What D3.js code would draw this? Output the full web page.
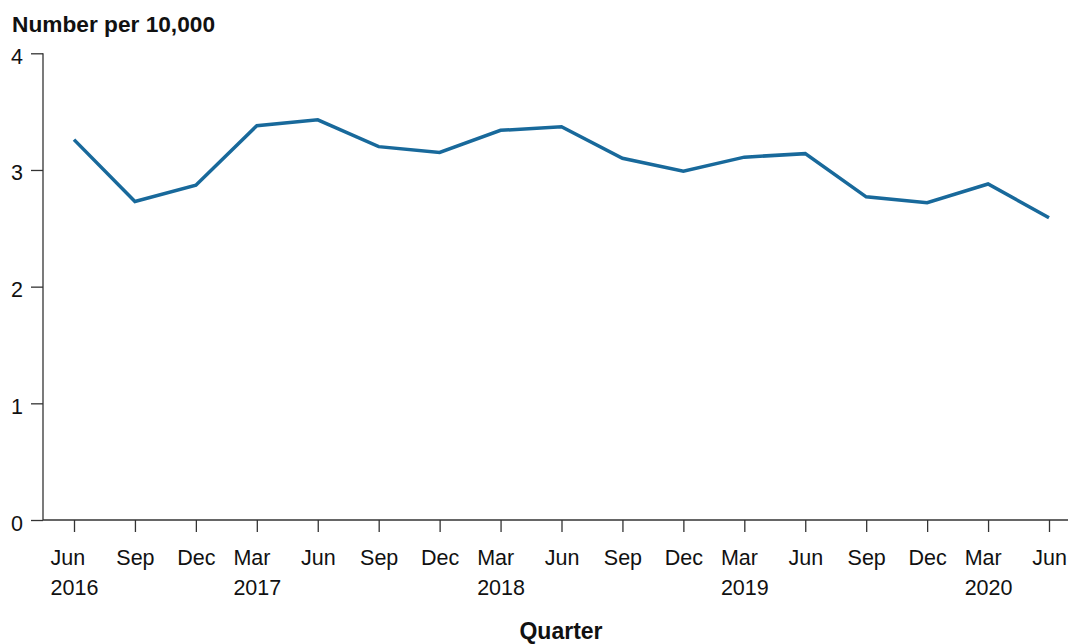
<!DOCTYPE html>
<html>
<head>
<meta charset="utf-8">
<script src="https://cdn.jsdelivr.net/npm/d3@7"></script>
<style>
  body { margin: 0; background: #fff; }
  svg { display: block; font-family: "Liberation Sans", Arial, sans-serif; }
</style>
</head>
<body>
<svg id="chart" width="1068" height="644"></svg>
<script>
var quarters = ["Jun", "Sep", "Dec", "Mar", "Jun", "Sep", "Dec", "Mar", "Jun",
                "Sep", "Dec", "Mar", "Jun", "Sep", "Dec", "Mar", "Jun"]
var years = ["2016", "", "", "2017", "", "", "", "2018", "", "", "", "2019", "", "", "", "2020", ""]
var rates = [3.26, 2.73, 2.87, 3.38, 3.43, 3.20, 3.15, 3.34, 3.37,
             3.10, 2.99, 3.11, 3.14, 2.77, 2.72, 2.88, 2.59]
var yTicks = [0, 1, 2, 3, 4]

var svg = d3.select("#chart")
var idx = d3.range(quarters.length)

var x = d3.scalePoint().domain(idx).range([74, 1049])
var y = d3.scaleLinear().domain([0, 4]).range([520, 53.3])

// y axis
var yAxis = svg.append("g").attr("transform", "translate(43,0)")
  .call(d3.axisLeft(y).tickValues(yTicks).tickSize(12).tickPadding(8).tickFormat(d3.format("d")))
yAxis.select(".domain").attr("d", "M0," + y(4) + "V" + y(0)).attr("stroke", "#333").attr("stroke-width", 1.3)
yAxis.selectAll(".tick line").attr("stroke", "#333").attr("stroke-width", 1.3)
yAxis.selectAll(".tick text").attr("font-size", 21.5).attr("fill", "#111").attr("dy", 10)

// x axis
var xAxis = svg.append("g").attr("transform", "translate(0," + y(0) + ")")
  .call(d3.axisBottom(x).tickSize(12).tickFormat(""))
xAxis.select(".domain").attr("d", "M43,0H1068").attr("stroke", "#333").attr("stroke-width", 1.3)
xAxis.selectAll(".tick line").attr("stroke", "#333").attr("stroke-width", 1.3)
xAxis.selectAll(".tick text").remove()

// two-line labels: block centred on the tick, lines left aligned
xAxis.selectAll(".tick").each(function(d) {
  var tick = d3.select(this)
  var q = tick.append("text").attr("font-size", 21.5).attr("fill", "#111")
    .attr("y", 45).text(quarters[d])
  if (years[d]) {
    var yr = tick.append("text").attr("font-size", 21.5).attr("fill", "#111")
      .attr("y", 75).text(years[d])
    var w = Math.max(q.node().getComputedTextLength(), yr.node().getComputedTextLength())
    q.attr("text-anchor", "start").attr("x", -w / 2)
    yr.attr("text-anchor", "start").attr("x", -w / 2)
  } else {
    q.attr("text-anchor", "middle")
  }
})

// line
var line = d3.line()
  .x(function(d, i) { return x(i) })
  .y(function(d) { return y(d) })

svg.append("path")
  .datum(rates)
  .attr("fill", "none")
  .attr("stroke", "#18699b")
  .attr("stroke-width", 3.5)
  .attr("stroke-linejoin", "miter")
  .attr("d", line)

// titles
svg.append("text").attr("x", 12).attr("y", 32)
  .attr("font-size", 22.7).attr("font-weight", "bold").attr("fill", "#111")
  .text("Number per 10,000")

svg.append("text").attr("x", 561).attr("y", 639)
  .attr("text-anchor", "middle").attr("font-size", 23).attr("font-weight", "bold").attr("fill", "#111")
  .text("Quarter")
</script>
</body>
</html>
